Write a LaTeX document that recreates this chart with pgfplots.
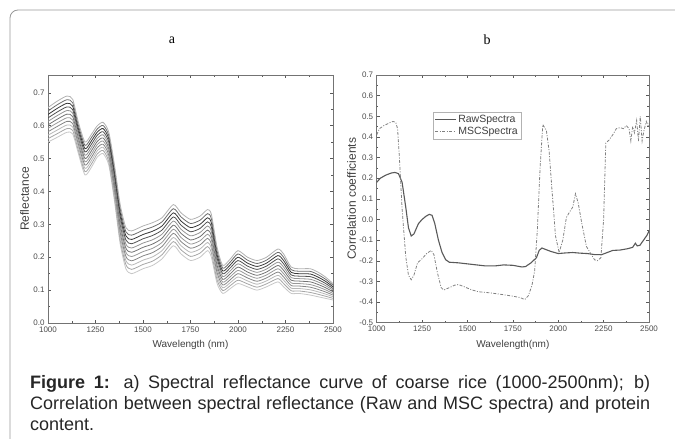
\documentclass[border=0pt]{standalone}
\usepackage{pgfplots}
\pgfplotsset{compat=1.18}
\usepackage{pgfplotstable}
\usepackage{fontspec}
\setmainfont{Liberation Sans}
\newfontfamily\serifA{Liberation Serif}

\pgfplotstableread{
x c0 c1 c2 c3 c4 c5 c6 c7 c8 c9 c10
1000 .550 .5605 .571 .5815 .592 .6025 .613 .6235 .634 .6445 .655
1050 .565 .576 .587 .598 .609 .620 .631 .642 .653 .664 .675
1100 .580 .591 .602 .613 .624 .635 .646 .657 .668 .679 .690
1130 .575 .5855 .596 .6065 .617 .6275 .638 .6485 .659 .6695 .680
1160 .515 .5245 .534 .5435 .553 .5625 .572 .5815 .591 .6005 .610
1195 .450 .460 .470 .480 .490 .500 .510 .520 .530 .540 .550
1230 .475 .485 .495 .505 .515 .525 .535 .545 .555 .565 .575
1260 .505 .5145 .524 .5335 .543 .5525 .562 .5715 .581 .5905 .600
1290 .515 .5245 .534 .5435 .553 .5625 .572 .5815 .591 .6005 .610
1320 .480 .490 .500 .510 .520 .530 .540 .550 .560 .570 .580
1350 .370 .381 .392 .403 .414 .425 .436 .447 .458 .469 .480
1380 .240 .252 .264 .276 .288 .300 .312 .324 .336 .348 .360
1410 .165 .1775 .190 .2025 .215 .2275 .240 .2525 .265 .2775 .290
1440 .150 .163 .176 .189 .202 .215 .228 .241 .254 .267 .280
1500 .165 .178 .191 .204 .217 .230 .243 .256 .269 .282 .295
1550 .175 .188 .201 .214 .227 .240 .253 .266 .279 .292 .305
1600 .195 .2075 .220 .2325 .245 .2575 .270 .2825 .295 .3075 .320
1660 .235 .2475 .260 .2725 .285 .2975 .310 .3225 .335 .3475 .360
1700 .210 .2225 .235 .2475 .260 .2725 .285 .2975 .310 .3225 .335
1750 .190 .2025 .215 .2275 .240 .2525 .265 .2775 .290 .3025 .315
1800 .200 .2125 .225 .2375 .250 .2625 .275 .2875 .300 .3125 .325
1840 .220 .2325 .245 .2575 .270 .2825 .295 .3075 .320 .3325 .345
1860 .200 .213 .226 .239 .252 .265 .278 .291 .304 .317 .330
1890 .120 .131 .142 .153 .164 .175 .186 .197 .208 .219 .230
1920 .090 .0985 .107 .1155 .124 .1325 .141 .1495 .158 .1665 .175
1960 .105 .114 .123 .132 .141 .150 .159 .168 .177 .186 .195
2000 .120 .130 .140 .150 .160 .170 .180 .190 .200 .210 .220
2050 .110 .119 .128 .137 .146 .155 .164 .173 .182 .191 .200
2100 .100 .109 .118 .127 .136 .145 .154 .163 .172 .181 .190
2150 .110 .119 .128 .137 .146 .155 .164 .173 .182 .191 .200
2210 .125 .135 .145 .155 .165 .175 .185 .195 .205 .215 .225
2240 .110 .120 .130 .140 .150 .160 .170 .180 .190 .200 .210
2280 .090 .098 .106 .114 .122 .130 .138 .146 .154 .162 .170
2320 .090 .0975 .105 .1125 .120 .1275 .135 .1425 .150 .1575 .165
2380 .085 .093 .101 .109 .117 .125 .133 .141 .149 .157 .165
2420 .080 .0875 .095 .1025 .110 .1175 .125 .1325 .140 .1475 .155
2460 .075 .0815 .088 .0945 .101 .1075 .114 .1205 .127 .1335 .140
2500 .070 .075 .080 .085 .090 .095 .100 .105 .110 .115 .120
}\spectra

\pgfplotscreateplotcyclelist{grays}{
{black!22},{black!35},{black!28},{black!48},{black!40},{black!55},{black!42},{black!68},{black!78},{black!58},{black!30}
}

\pgfplotsset{
  panel/.style={
    scale only axis,
    xmin=1000, xmax=2500,
    xtick={1000,1250,...,2500},
    minor x tick num=1, minor y tick num=1,
    tick align=inside,
    major tick length=3pt, minor tick length=1.6pt,
    tick style={black!65, line width=0.5pt},
    axis line style={black!55, line width=0.7pt},
    ticklabel style={font=\fontsize{8}{9}\selectfont, text=black!70},
    /pgf/number format/assume math mode=true,
    xticklabel style={/pgf/number format/set thousands separator={}},
    yticklabel style={/pgf/number format/fixed, /pgf/number format/fixed zerofill, /pgf/number format/precision=1},
    xlabel style={font=\fontsize{10}{12}\selectfont, text=black!75, at={(axis description cs:0.5,-0.09)}, anchor=center},
    ylabel style={font=\fontsize{12}{14}\selectfont, text=black!75},
  }
}

\begin{document}
\begin{tikzpicture}
\path[use as bounding box] (0pt,0pt) rectangle (675pt,-439pt);
\draw[black!40, line width=0.8pt, rounded corners=8pt] (10pt,-10pt) rectangle (720pt,-480pt);

\node[font=\serifA\fontsize{14}{16}\selectfont] at (172pt,-40pt) {a};
\node[font=\serifA\fontsize{14}{16}\selectfont] at (487pt,-40pt) {b};

\begin{axis}[panel,
  at={(48pt,-323pt)}, anchor=south west,
  width=285pt, height=248pt,
  ymin=0, ymax=0.754,
  ytick={0,0.1,...,0.7},
  xlabel={Wavelength (nm)}, ylabel={Reflectance},
  ylabel style={at={(axis description cs:-0.082,0.5)}, anchor=center},
  cycle list name=grays,
  every axis plot/.append style={line width=0.8pt, smooth, tension=0.4},
]
\pgfplotsinvokeforeach{0,...,10}{
  \addplot table[x=x, y=c#1] {\spectra};
}
\end{axis}

\begin{axis}[panel,
  at={(376.7pt,-322.7pt)}, anchor=south west,
  width=272.3pt, height=247.7pt,
  ymin=-0.5, ymax=0.7,
  ytick={-0.5,-0.4,...,0.7},
  xlabel={Wavelength(nm)}, ylabel={Correlation coefficients},
  ylabel style={at={(axis description cs:-0.092,0.5)}, anchor=center},
  legend style={at={(axis cs:1310,0.522)}, anchor=north west, draw=black!30, font=\fontsize{10.5}{12}\selectfont, text=black!75, inner sep=1.5pt, row sep=-1pt},
  legend cell align=left,
  legend image post style={xscale=1.2},
]
\addplot[black!65, line width=1.1pt] coordinates {
(1000,0.180)(1020,0.200)(1050,0.215)(1080,0.225)(1100,0.228)(1120,0.222)(1140,0.180)(1160,0.060)(1175,-0.040)(1190,-0.080)(1205,-0.070)(1230,-0.020)(1250,0.000)(1270,0.015)(1290,0.025)(1305,0.020)(1320,-0.020)(1340,-0.100)(1360,-0.160)(1380,-0.195)(1400,-0.207)(1450,-0.210)(1500,-0.215)(1550,-0.220)(1600,-0.225)(1650,-0.225)(1700,-0.220)(1750,-0.222)(1800,-0.230)(1820,-0.228)(1850,-0.210)(1880,-0.185)(1895,-0.150)(1910,-0.138)(1930,-0.145)(1960,-0.155)(2000,-0.165)(2040,-0.162)(2080,-0.160)(2120,-0.163)(2160,-0.165)(2200,-0.170)(2240,-0.170)(2270,-0.160)(2300,-0.150)(2340,-0.148)(2380,-0.142)(2410,-0.135)(2425,-0.115)(2435,-0.128)(2450,-0.125)(2470,-0.100)(2490,-0.075)(2500,-0.055)
};
\addlegendentry{RawSpectra}
\addplot[black!50, line width=0.8pt, dash pattern=on 3pt off 1.5pt on 1pt off 1.5pt] coordinates {
(1000,0.410)(1015,0.440)(1040,0.455)(1070,0.468)(1090,0.475)(1105,0.470)(1115,0.440)(1125,0.300)(1140,0.050)(1160,-0.180)(1175,-0.270)(1190,-0.292)(1205,-0.270)(1225,-0.210)(1250,-0.190)(1275,-0.165)(1300,-0.150)(1315,-0.170)(1335,-0.260)(1355,-0.330)(1370,-0.342)(1400,-0.330)(1430,-0.318)(1450,-0.315)(1480,-0.325)(1520,-0.340)(1560,-0.350)(1620,-0.355)(1680,-0.362)(1740,-0.370)(1790,-0.378)(1815,-0.388)(1835,-0.370)(1855,-0.320)(1870,-0.250)(1885,-0.050)(1900,0.250)(1915,0.460)(1935,0.430)(1950,0.330)(1965,0.150)(1985,-0.080)(2005,-0.160)(2025,-0.100)(2045,0.010)(2065,0.040)(2080,0.060)(2095,0.125)(2110,0.080)(2130,-0.020)(2155,-0.130)(2175,-0.160)(2200,-0.195)(2215,-0.200)(2235,-0.185)(2250,0.000)(2262,0.370)(2280,0.385)(2300,0.410)(2320,0.440)(2340,0.445)(2360,0.440)(2375,0.455)(2390,0.440)(2400,0.380)(2410,0.450)(2420,0.420)(2432,0.480)(2442,0.380)(2452,0.500)(2462,0.380)(2472,0.430)(2485,0.475)(2495,0.455)(2500,0.465)
};
\addlegendentry{MSCSpectra}
\end{axis}

\node[anchor=north west, text width=620pt, align=justify, inner sep=0pt, font=\fontsize{18}{21}\selectfont, text=black!85] at (30pt,-375pt)
{\textbf{Figure 1:} a) Spectral reflectance curve of coarse rice (1000-2500nm); b)\linebreak Correlation between spectral reflectance (Raw and MSC spectra) and protein\linebreak content.};
\end{tikzpicture}
\end{document}
